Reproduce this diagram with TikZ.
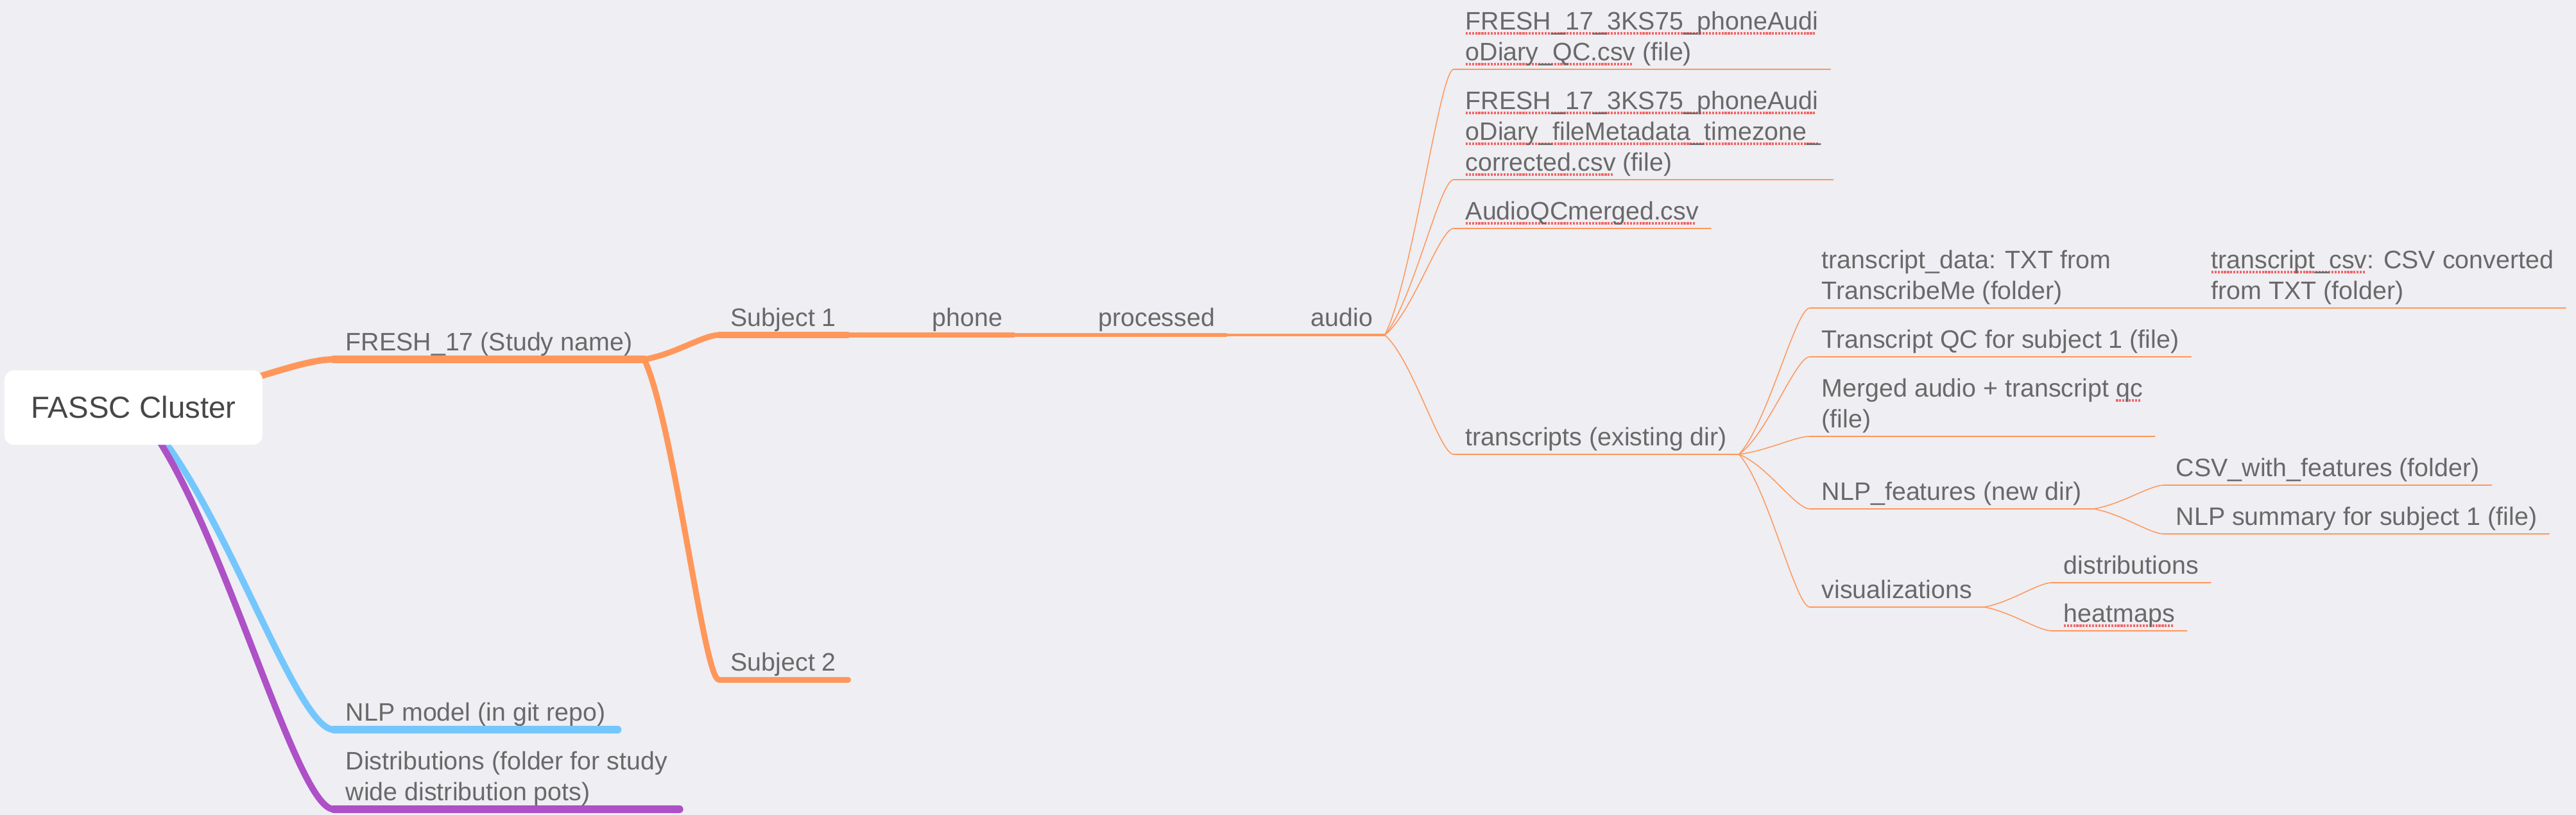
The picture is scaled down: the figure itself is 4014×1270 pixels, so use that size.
\documentclass[tikz,border=0pt]{standalone}
\usepackage{fontspec}
\setmainfont{Liberation Sans}
\usepackage{tikz}
\usetikzlibrary{calc,positioning}

\definecolor{bgcol}{HTML}{EEEEF3}
\definecolor{mmorange}{HTML}{FF975A}
\definecolor{mmblue}{HTML}{74C7FC}
\definecolor{mmpurple}{HTML}{AE50C6}
\definecolor{textgray}{HTML}{696969}
\definecolor{rootgray}{HTML}{474747}
\definecolor{typored}{HTML}{F26464}

%red spell-check marks under a word
\newsavebox\typobox
\newcommand\typo[1]{\sbox\typobox{#1}\rlap{\textcolor{typored}{\leaders\hbox{\rule[-2.3pt]{0.9pt}{1.2pt}\kern0.5pt}\hskip\wd\typobox}}\usebox\typobox}

%curve from the end of a parent line to the start of a child line
\newcommand\twig[3][]{\draw[#1] let \p1=(#2), \p2=(#3) in (\p1) .. controls ({\x1+0.4*(\x2-\x1)},{\y1+0.2*(\y2-\y1)}) and ({\x1+0.8*(\x2-\x1)},\y2) .. (\p2);}

\tikzset{
  topic/.style={anchor=south west, inner xsep=0.18cm, inner ysep=0.13cm, text depth=0pt,
    align=left, text=textgray, font=\fontsize{11.2}{13.66}\selectfont},
  rootbox/.style={fill=white, rounded corners=0.15cm, minimum width=4.02cm, minimum height=1.16cm,
    inner sep=0pt, text=rootgray, font=\fontsize{13.5}{16}\selectfont},
  mainline/.style={line width=0.12cm, line cap=round},
  rootlink/.style={line width=0.1cm, line cap=round},
  subjline/.style={line width=0.09cm, line cap=round},
  phoneline/.style={line width=0.07cm},
  procline/.style={line width=0.05cm},
  audioline/.style={line width=0.035cm},
  leafline/.style={line width=0.025cm, line cap=round},
  leaflink/.style={line width=0.015cm}
}

\begin{document}
\begin{tikzpicture}[x=0.01cm, y=-0.01cm]

\fill[bgcol] (0,0) rectangle (4014,1270);
\useasboundingbox (0,0) rectangle (4014,1270);

\coordinate (hub) at (208,635);

%first level
\node[topic] (fresh) at (520,560) {FRESH\_17 (Study name)};
\node[topic] (nlpmodel) at (520,1137) {NLP model (in git repo)};
\node[topic] (dist) at (520,1261) {Distributions (folder for study\\wide distribution pots)};

%subjects
\node[topic] (subj1) at (1120,522) {Subject 1};
\node[topic] (subj2) at (1120,1059) {Subject 2};
\node[topic, right=1.12cm of subj1.south east, anchor=south west] (phone) {phone};
\node[topic, right=1.12cm of phone.south east, anchor=south west] (proc) {processed};
\node[topic, right=1.12cm of proc.south east, anchor=south west] (audio) {audio};

%audio files
\node[topic] (qc) at (2265,108) {\typo{FRESH\_17\_3KS75\_phoneAudi}\\\typo{oDiary\_QC.csv} (file)};
\node[topic] (meta) at (2265,280) {\typo{FRESH\_17\_3KS75\_phoneAudi}\\\typo{oDiary\_fileMetadata\_timezone\_}\\\typo{corrected.csv} (file)};
\node[topic] (merged) at (2265,356) {\typo{AudioQCmerged.csv}};
\node[topic] (trans) at (2265,708) {transcripts (existing dir)};

%transcripts
\node[topic] (tdata) at (2820,480) {transcript\_data: TXT from\\TranscribeMe (folder)};
\node[topic] (tcsv) at (3427,480) {\typo{transcript\_csv}: CSV converted\\from TXT (folder)};
\node[topic] (tqc) at (2820,556) {Transcript QC for subject 1 (file)};
\node[topic] (tmerge) at (2820,680) {Merged audio + transcript \typo{qc}\\(file)};
\node[topic] (nlpf) at (2820,793) {NLP\_features (new dir)};
\node[topic] (vis) at (2820,946) {visualizations};
\node[topic] (csvf) at (3372,756) {CSV\_with\_features (folder)};
\node[topic] (nlps) at (3372,832) {NLP summary for subject 1 (file)};
\node[topic] (distr) at (3197,908) {distributions};
\node[topic] (heat) at (3197,983) {\typo{heatmaps}};

%branches from the root
\twig[mmorange, rootlink]{hub}{fresh.south west}
\twig[mmblue, rootlink]{hub}{nlpmodel.south west}
\twig[mmpurple, rootlink]{hub}{dist.south west}
\draw[mmorange, mainline] (fresh.south west) -- (fresh.south east);
\draw[mmblue, mainline] (nlpmodel.south west) -- (nlpmodel.south east);
\draw[mmpurple, mainline] (dist.south west) -- (dist.south east);

\twig[mmorange, subjline]{fresh.south east}{subj1.south west}
\twig[mmorange, subjline]{fresh.south east}{subj2.south west}
\draw[mmorange, subjline] (subj1.south west) -- (subj1.south east);
\draw[mmorange, subjline] (subj2.south west) -- (subj2.south east);
\draw[mmorange, phoneline] (subj1.south east) -- (phone.south west) -- (phone.south east);
\draw[mmorange, procline] (phone.south east) -- (proc.south west) -- (proc.south east);
\draw[mmorange, audioline] (proc.south east) -- (audio.south west) -- (audio.south east);

%audio children
\twig[mmorange, leaflink]{audio.south east}{qc.south west}
\twig[mmorange, leaflink]{audio.south east}{meta.south west}
\twig[mmorange, leaflink]{audio.south east}{merged.south west}
\twig[mmorange, leaflink]{audio.south east}{trans.south west}
\draw[mmorange, leafline] (qc.south west) -- (qc.south east);
\draw[mmorange, leafline] (meta.south west) -- (meta.south east);
\draw[mmorange, leafline] (merged.south west) -- (merged.south east);
\draw[mmorange, leafline] (trans.south west) -- (trans.south east);

%transcripts children
\twig[mmorange, leaflink]{trans.south east}{tdata.south west}
\twig[mmorange, leaflink]{trans.south east}{tqc.south west}
\twig[mmorange, leaflink]{trans.south east}{tmerge.south west}
\twig[mmorange, leaflink]{trans.south east}{nlpf.south west}
\twig[mmorange, leaflink]{trans.south east}{vis.south west}
\draw[mmorange, leafline] (tdata.south west) -- (tdata.south east) -- (tcsv.south west) -- (tcsv.south east);
\draw[mmorange, leafline] (tqc.south west) -- (tqc.south east);
\draw[mmorange, leafline] (tmerge.south west) -- (tmerge.south east);
\draw[mmorange, leafline] (nlpf.south west) -- (nlpf.south east);
\draw[mmorange, leafline] (vis.south west) -- (vis.south east);

\twig[mmorange, leaflink]{nlpf.south east}{csvf.south west}
\twig[mmorange, leaflink]{nlpf.south east}{nlps.south west}
\twig[mmorange, leaflink]{vis.south east}{distr.south west}
\twig[mmorange, leaflink]{vis.south east}{heat.south west}
\draw[mmorange, leafline] (csvf.south west) -- (csvf.south east);
\draw[mmorange, leafline] (nlps.south west) -- (nlps.south east);
\draw[mmorange, leafline] (distr.south west) -- (distr.south east);
\draw[mmorange, leafline] (heat.south west) -- (heat.south east);

%root on top of its branches
\node[rootbox] (root) at (hub) {FASSC Cluster};

\end{tikzpicture}
\end{document}
